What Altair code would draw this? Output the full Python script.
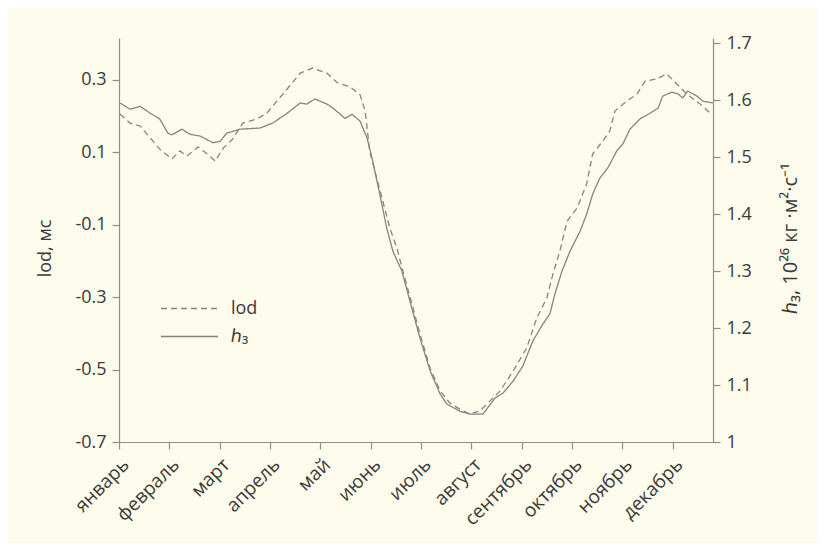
import altair as alt
import pandas as pd

months = ["январь", "февраль", "март", "апрель", "май", "июнь", "июль",
          "август", "сентябрь", "октябрь", "ноябрь", "декабрь"]

# lod (left axis, ms), x in months from start of January
lod_x = [0.02, 0.22, 0.42, 0.62, 0.81, 1.05, 1.21, 1.35, 1.57, 1.75, 1.91, 2.07,
         2.26, 2.46, 2.74, 2.94, 3.14, 3.34, 3.60, 3.85, 4.13, 4.33, 4.59, 4.79,
         4.89, 4.98, 5.12, 5.24, 5.38, 5.52, 5.64, 5.82, 5.98, 6.18, 6.38, 6.57,
         6.77, 6.97, 7.17, 7.31, 7.57, 7.83, 8.10, 8.30, 8.50, 8.62, 8.76, 8.90,
         9.10, 9.29, 9.41, 9.61, 9.75, 9.85, 10.09, 10.29, 10.45, 10.69, 10.88,
         11.08, 11.28, 11.54, 11.74]
lod_v = [0.206, 0.181, 0.173, 0.140, 0.109, 0.082, 0.104, 0.090, 0.115, 0.096,
         0.076, 0.112, 0.137, 0.181, 0.192, 0.209, 0.242, 0.275, 0.319, 0.333,
         0.319, 0.293, 0.281, 0.259, 0.214, 0.104, 0.029, -0.034, -0.109, -0.164,
         -0.228, -0.319, -0.402, -0.496, -0.559, -0.592, -0.609, -0.623, -0.614,
         -0.595, -0.559, -0.504, -0.440, -0.357, -0.302, -0.236, -0.172, -0.090,
         -0.054, 0.013, 0.096, 0.131, 0.159, 0.214, 0.242, 0.261, 0.297, 0.303,
         0.317, 0.289, 0.261, 0.234, 0.209]

# h3 (right axis, 10^26 kg m^2 s^-1)
h_x = [0.02, 0.22, 0.42, 0.62, 0.81, 0.97, 1.05, 1.25, 1.41, 1.61, 1.87, 2.01,
       2.14, 2.40, 2.80, 3.06, 3.34, 3.60, 3.73, 3.89, 4.13, 4.25, 4.49, 4.63,
       4.79, 4.93, 5.04, 5.18, 5.32, 5.44, 5.62, 5.78, 5.98, 6.18, 6.38, 6.51,
       6.77, 6.97, 7.23, 7.47, 7.63, 7.83, 8.02, 8.22, 8.42, 8.56, 8.66, 8.80,
       8.96, 9.16, 9.29, 9.41, 9.55, 9.71, 9.89, 10.01, 10.15, 10.35, 10.55,
       10.71, 10.80, 10.98, 11.10, 11.20, 11.30, 11.48, 11.60, 11.80]
h_v = [1.595, 1.584, 1.589, 1.577, 1.567, 1.542, 1.539, 1.549, 1.540, 1.537,
       1.525, 1.528, 1.542, 1.549, 1.551, 1.560, 1.577, 1.595, 1.593, 1.602,
       1.593, 1.586, 1.568, 1.575, 1.563, 1.533, 1.493, 1.435, 1.375, 1.335,
       1.300, 1.247, 1.182, 1.125, 1.084, 1.067, 1.054, 1.049, 1.049, 1.077,
       1.086, 1.107, 1.133, 1.177, 1.207, 1.225, 1.260, 1.300, 1.335, 1.370,
       1.400, 1.435, 1.463, 1.481, 1.511, 1.523, 1.549, 1.567, 1.577, 1.586,
       1.607, 1.614, 1.611, 1.604, 1.616, 1.607, 1.598, 1.595]

lod_ticks = [-0.7, -0.5, -0.3, -0.1, 0.1, 0.3]
h_ticks = [1.0, 1.1, 1.2, 1.3, 1.4, 1.5, 1.6, 1.7]

series_names = ["lod", "ℎ₃"]

lod_df = pd.DataFrame({"m": lod_x, "v": lod_v, "s": series_names[0]})
h_df = pd.DataFrame({"m": h_x, "v": h_v, "s": series_names[1]})

LINE = "#858581"
AX = "#8f8f88"
TXT = "#3a3a3a"
FONT = "Open Sans"

month_expr = "[" + ",".join("'%s'" % m for m in months) + "][datum.value]"

x_enc = alt.X(
    "m:Q",
    scale=alt.Scale(domain=[0, 11.8], nice=False, zero=False),
    axis=alt.Axis(values=list(range(12)), labelExpr=month_expr, labelAngle=-45,
                  labelAlign="right", labelBaseline="top", labelPadding=6,
                  labelOverlap=False, labelFontSize=19, title=None),
)

dash = alt.StrokeDash(
    "s:N",
    scale=alt.Scale(domain=series_names, range=[[6, 4], [1, 0]]),
    legend=alt.Legend(
        title=None, orient="none", legendX=60, legendY=260, direction="vertical",
        symbolType="M-3,0H3", symbolSize=361, symbolStrokeWidth=1.3,
        symbolStrokeColor=LINE, labelFontSize=18, labelFont=FONT,
        labelColor=TXT, labelOffset=31, padding=0, rowPadding=8,
    ),
)

lod_line = alt.Chart(lod_df).mark_line(strokeWidth=1.3, color=LINE).encode(
    x=x_enc,
    y=alt.Y("v:Q", scale=alt.Scale(domain=[-0.7, 0.416], nice=False, zero=False),
            axis=alt.Axis(values=lod_ticks, orient="left", title="lod, мс",
                          labelExpr="datum.value < 0 ? '-' + format(-datum.value, '.1f') : format(datum.value, '.1f')",
                          titleY=210, titlePadding=20)),
    strokeDash=dash,
)

h_line = alt.Chart(h_df).mark_line(strokeWidth=1.3, color=LINE).encode(
    x=x_enc,
    y=alt.Y("v:Q", scale=alt.Scale(domain=[1.0, 1.709], nice=False, zero=False),
            axis=alt.Axis(values=h_ticks, orient="right", format=".1~f",
                          title="ℎ₃, 10²⁶ кг ·м²·с⁻¹", titleAngle=270,
                          titleX=77, titleY=200, titleAlign="center",
                          titleBaseline="middle", titleFontSize=20)),
    strokeDash=dash,
)

chart = alt.layer(lod_line, h_line).resolve_scale(y="independent").properties(
    width=594, height=404, background="#fdfbeb",
    padding={"left": 28, "top": 26, "right": 17, "bottom": 14},
).configure_view(stroke=None).configure_axis(
    grid=False, domainColor=AX, tickColor=AX, tickSize=7, domainWidth=1.2,
    tickWidth=1.2, labelFont=FONT, labelFontSize=18, labelColor=TXT,
    titleFont=FONT, titleFontSize=18, titleColor=TXT, titleFontWeight="normal",
    labelPadding=6,
)

chart.save("out.html", embed_options={"renderer": "svg", "actions": False})
